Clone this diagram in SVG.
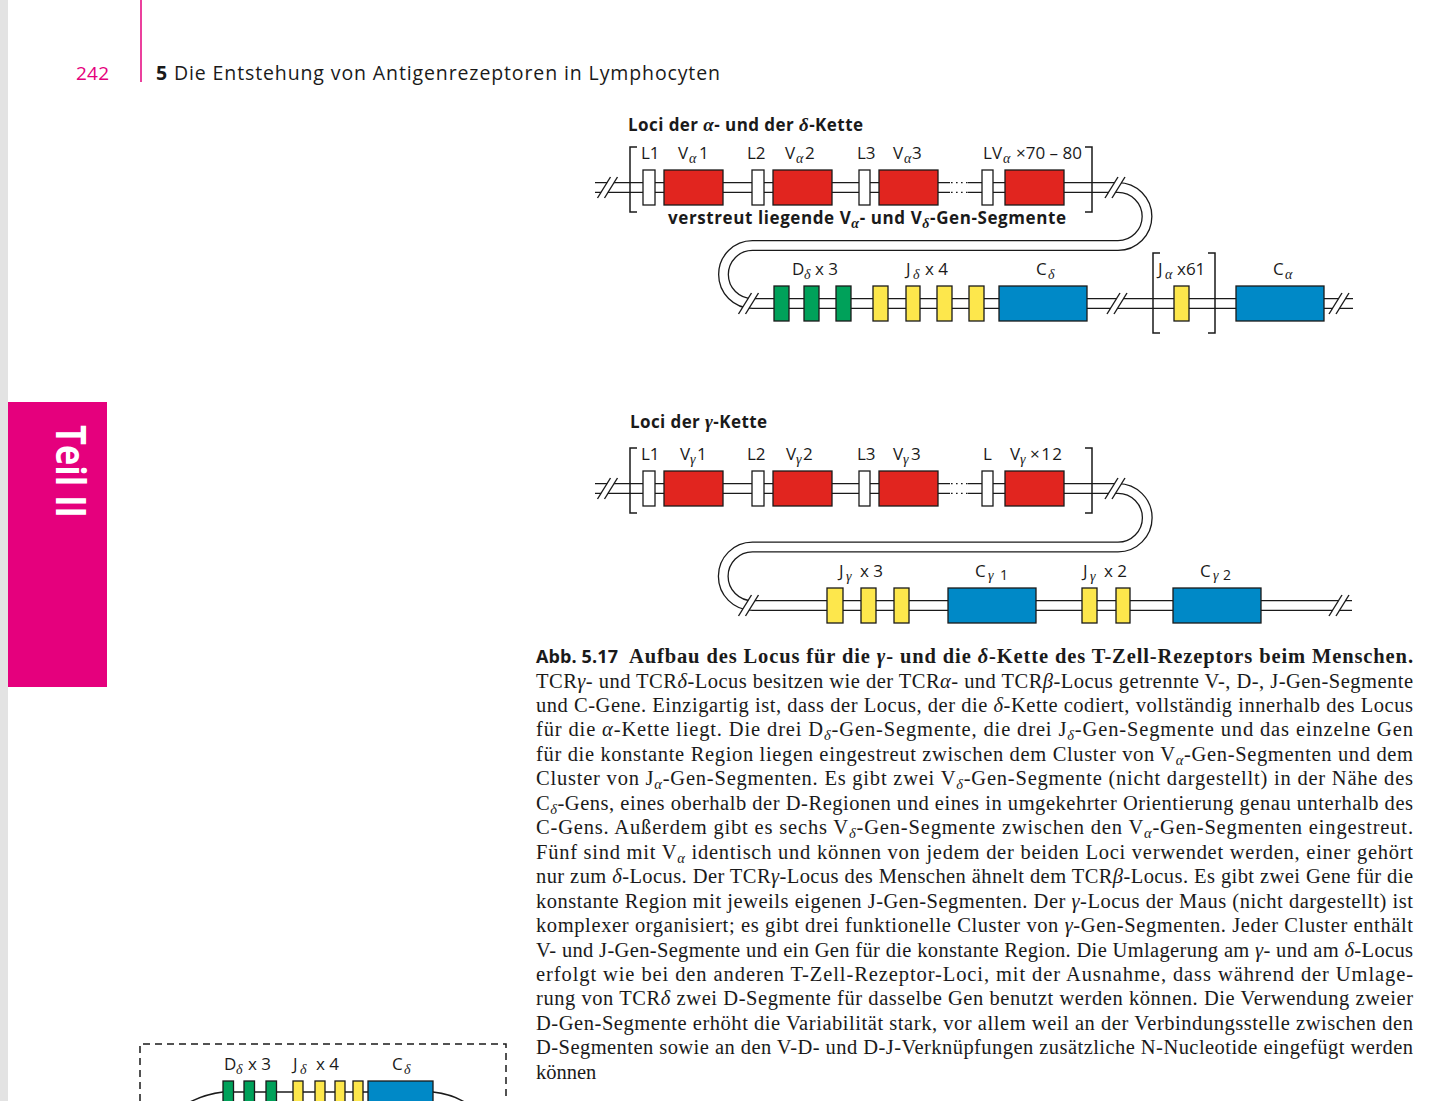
<svg xmlns="http://www.w3.org/2000/svg" width="1456" height="1101" viewBox="0 0 1456 1101">
<defs>
<style>
.sans{font-family:"Open Sans","Noto Sans","Liberation Sans",sans-serif;fill:#1a1a1a}
.lab{font-family:"Open Sans","Noto Sans","Liberation Sans",sans-serif;font-size:17px;fill:#1a1a1a}
.bold{font-weight:bold}
.g{font-family:"Liberation Serif",serif;font-style:italic}
.gs{font-family:"Liberation Serif",serif;font-style:italic;font-size:14px}
.cap{font-family:"Liberation Serif",serif;font-size:20.5px;fill:#1a1a1a}
.i{font-style:italic}
.s{font-style:italic;font-size:14.5px}
.ro{fill:none;stroke:#1a1a1a;stroke-width:11}
.ri{fill:none;stroke:#fff;stroke-width:8.4}
.bx{stroke:#1a1a1a;stroke-width:1.3}
.w{fill:#fff}.r{fill:#e1251f}.gr{fill:#00a15a}.y{fill:#fde74c}.b{fill:#0089c7}
.br{fill:none;stroke:#1a1a1a;stroke-width:1.5}
.dot{fill:none;stroke:#1a1a1a;stroke-width:1.3;stroke-dasharray:1.6 3.4}
</style>
<g id="brk">
<polygon points="-10,10.5 3,-10.5 10,-10.5 -3,10.5" fill="#fff"/>
<line x1="-10" y1="10.5" x2="3" y2="-10.5" stroke="#1a1a1a" stroke-width="1.4"/>
<line x1="-3" y1="10.5" x2="10" y2="-10.5" stroke="#1a1a1a" stroke-width="1.4"/>
</g>
</defs>
<rect width="1456" height="1101" fill="#fff"/>
<rect x="0" y="0" width="8" height="1101" fill="#e3e3e3"/>

<g id="header">
<line x1="141" y1="0" x2="141" y2="82" stroke="#e5007d" stroke-width="1.5"/>
<text x="76" y="80" class="sans" font-size="19" style="fill:#e5007d" textLength="33">242</text>
<text x="156" y="80" class="sans" font-size="19.5" textLength="564"><tspan font-weight="bold">5</tspan> Die Entstehung von Antigenrezeptoren in Lymphocyten</text>
</g>

<g id="tab">
<rect x="8" y="402" width="99" height="285" fill="#e5007d"/>
<text transform="translate(56,425) rotate(90)" font-family="Open Sans,Noto Sans,sans-serif" font-weight="bold" font-size="42" fill="#fff" textLength="93" lengthAdjust="spacingAndGlyphs">Teil II</text>
</g>

<g id="connectors">
<path class="ro" d="M595,187.5 H1118 A29,29 0 0 1 1118,245.5 H752.5 A29,29 0 0 0 752.5,303.5 H1353"/>
<path class="ri" d="M595,187.5 H1118 A29,29 0 0 1 1118,245.5 H752.5 A29,29 0 0 0 752.5,303.5 H1353"/>
<rect x="950" y="181" width="18" height="13" fill="#fff"/>
<line class="dot" x1="951" y1="182.6" x2="968" y2="182.6"/>
<line class="dot" x1="951" y1="192.4" x2="968" y2="192.4"/>
<use href="#brk" x="607.5" y="187.5"/>
<use href="#brk" x="1115" y="187.5"/>
<use href="#brk" x="748.5" y="303.5"/>
<use href="#brk" x="1117" y="303.5"/>
<use href="#brk" x="1339" y="303.5"/>

<path class="ro" d="M595,488.5 H1118 A29.25,29.25 0 0 1 1118,547 H752.5 A29.25,29.25 0 0 0 752.5,605.5 H1352"/>
<path class="ri" d="M595,488.5 H1118 A29.25,29.25 0 0 1 1118,547 H752.5 A29.25,29.25 0 0 0 752.5,605.5 H1352"/>
<rect x="950" y="482" width="18" height="13" fill="#fff"/>
<line class="dot" x1="951" y1="483.6" x2="968" y2="483.6"/>
<line class="dot" x1="951" y1="493.4" x2="968" y2="493.4"/>
<use href="#brk" x="607.5" y="488.5"/>
<use href="#brk" x="1115" y="488.5"/>
<use href="#brk" x="748.5" y="605.5"/>
<use href="#brk" x="1339" y="605.5"/>
</g>

<g id="alpha-title">
<text x="628" y="131" class="sans bold" font-size="17" textLength="235">Loci der <tspan class="g" font-size="19">α</tspan>- und der <tspan class="g" font-size="19">δ</tspan>-Kette</text>
</g>

<g id="alpha-brackets">
<path class="br" d="M637,147 H630 V212 H637"/>
<path class="br" d="M1085,147 H1092 V212 H1085"/>
<path class="br" d="M1160,253 H1153 V333 H1160"/>
<path class="br" d="M1208,253 H1215 V333 H1208"/>
</g>

<g id="alpha-top">
<rect class="bx w" x="643" y="170" width="12" height="35"/>
<rect class="bx r" x="664" y="170" width="59" height="35"/>
<rect class="bx w" x="752" y="170" width="12" height="35"/>
<rect class="bx r" x="773" y="170" width="59" height="35"/>
<rect class="bx w" x="859" y="170" width="11" height="35"/>
<rect class="bx r" x="879" y="170" width="59" height="35"/>
<rect class="bx w" x="982" y="170" width="11" height="35"/>
<rect class="bx r" x="1005" y="170" width="59" height="35"/>
<text class="lab" x="641" y="159">L1</text>
<text class="lab" y="159"><tspan x="678">V</tspan><tspan class="gs" x="689" dy="4">α</tspan><tspan x="699" dy="-4">1</tspan></text>
<text class="lab" x="747" y="159">L2</text>
<text class="lab" y="159"><tspan x="785">V</tspan><tspan class="gs" x="796" dy="4">α</tspan><tspan x="805" dy="-4">2</tspan></text>
<text class="lab" x="857" y="159">L3</text>
<text class="lab" y="159"><tspan x="893">V</tspan><tspan class="gs" x="904" dy="4">α</tspan><tspan x="912" dy="-4">3</tspan></text>
<text class="lab" y="159"><tspan x="983">L</tspan><tspan x="992">V</tspan><tspan class="gs" x="1003" dy="4">α</tspan><tspan x="1016" dy="-4" textLength="66">×70 – 80</tspan></text>
<text x="668" y="224" class="sans bold" font-size="17" textLength="398">verstreut liegende V<tspan class="gs" dy="4">α</tspan><tspan dy="-4">- und V</tspan><tspan class="gs" dy="4">δ</tspan><tspan dy="-4">-Gen-Segmente</tspan></text>
</g>

<g id="alpha-bottom">
<rect class="bx gr" x="774" y="286" width="15" height="35"/>
<rect class="bx gr" x="804" y="286" width="15" height="35"/>
<rect class="bx gr" x="836" y="286" width="15" height="35"/>
<rect class="bx y" x="873" y="286" width="15" height="35"/>
<rect class="bx y" x="906" y="286" width="14" height="35"/>
<rect class="bx y" x="937" y="286" width="15" height="35"/>
<rect class="bx y" x="969" y="286" width="15" height="35"/>
<rect class="bx b" x="999" y="286" width="88" height="35"/>
<rect class="bx y" x="1174" y="286" width="15" height="35"/>
<rect class="bx b" x="1236" y="286" width="88" height="35"/>
<text class="lab" y="275"><tspan x="792">D</tspan><tspan class="gs" x="804" dy="4">δ</tspan><tspan x="815" dy="-4">x 3</tspan></text>
<text class="lab" y="275"><tspan x="906">J</tspan><tspan class="gs" x="913" dy="4">δ</tspan><tspan x="925" dy="-4">x 4</tspan></text>
<text class="lab" y="275"><tspan x="1036">C</tspan><tspan class="gs" x="1048" dy="4">δ</tspan></text>
<text class="lab" y="275"><tspan x="1158">J</tspan><tspan class="gs" x="1165" dy="4">α</tspan><tspan x="1177" dy="-4">x61</tspan></text>
<text class="lab" y="275"><tspan x="1273">C</tspan><tspan class="gs" x="1285" dy="4">α</tspan></text>
</g>

<g id="gamma-title">
<text x="630" y="428" class="sans bold" font-size="17" textLength="137">Loci der <tspan class="g" font-size="19">γ</tspan>-Kette</text>
</g>

<g id="gamma-brackets">
<path class="br" d="M637,448 H630 V513 H637"/>
<path class="br" d="M1085,448 H1092 V513 H1085"/>
</g>

<g id="gamma-top">
<rect class="bx w" x="643" y="471" width="12" height="35"/>
<rect class="bx r" x="664" y="471" width="59" height="35"/>
<rect class="bx w" x="752" y="471" width="12" height="35"/>
<rect class="bx r" x="773" y="471" width="59" height="35"/>
<rect class="bx w" x="859" y="471" width="11" height="35"/>
<rect class="bx r" x="879" y="471" width="59" height="35"/>
<rect class="bx w" x="982" y="471" width="11" height="35"/>
<rect class="bx r" x="1005" y="471" width="59" height="35"/>
<text class="lab" x="641" y="460">L1</text>
<text class="lab" y="460"><tspan x="680">V</tspan><tspan class="gs" x="690" dy="4">γ</tspan><tspan x="697" dy="-4">1</tspan></text>
<text class="lab" x="747" y="460">L2</text>
<text class="lab" y="460"><tspan x="786">V</tspan><tspan class="gs" x="796" dy="4">γ</tspan><tspan x="803" dy="-4">2</tspan></text>
<text class="lab" x="857" y="460">L3</text>
<text class="lab" y="460"><tspan x="893">V</tspan><tspan class="gs" x="903" dy="4">γ</tspan><tspan x="911" dy="-4">3</tspan></text>
<text class="lab" x="983" y="460">L</text>
<text class="lab" y="460"><tspan x="1010">V</tspan><tspan class="gs" x="1020" dy="4">γ</tspan><tspan x="1030" dy="-4" textLength="32">×12</tspan></text>
</g>

<g id="gamma-bottom">
<rect class="bx y" x="827" y="588" width="16" height="35"/>
<rect class="bx y" x="861" y="588" width="15" height="35"/>
<rect class="bx y" x="894" y="588" width="15" height="35"/>
<rect class="bx b" x="948" y="588" width="88" height="35"/>
<rect class="bx y" x="1082" y="588" width="15" height="35"/>
<rect class="bx y" x="1116" y="588" width="14" height="35"/>
<rect class="bx b" x="1173" y="588" width="88" height="35"/>
<text class="lab" y="577"><tspan x="839">J</tspan><tspan class="gs" x="846" dy="4">γ</tspan><tspan x="860" dy="-4">x 3</tspan></text>
<text class="lab" y="577"><tspan x="975">C</tspan><tspan class="gs" x="988" dy="3">γ</tspan><tspan x="1000" font-size="14">1</tspan></text>
<text class="lab" y="577"><tspan x="1083">J</tspan><tspan class="gs" x="1090" dy="4">γ</tspan><tspan x="1104" dy="-4">x 2</tspan></text>
<text class="lab" y="577"><tspan x="1200">C</tspan><tspan class="gs" x="1213" dy="3">γ</tspan><tspan x="1223" font-size="14">2</tspan></text>
</g>

<g id="caption">
<text x="536" y="663" class="sans bold" font-size="18" textLength="82">Abb. 5.17</text>
<text x="629" y="663" class="cap" font-weight="bold" textLength="784">Aufbau des Locus für die <tspan class="i">γ</tspan>- und die <tspan class="i">δ</tspan>-Kette des T-Zell-Rezeptors beim Menschen.</text>
<text x="536" y="688" class="cap" textLength="877">TCR<tspan class="i">γ</tspan>- und TCR<tspan class="i">δ</tspan>-Locus besitzen wie der TCR<tspan class="i">α</tspan>- und TCR<tspan class="i">β</tspan>-Locus getrennte V-, D-, J-Gen-Segmente</text>
<text x="536" y="712" class="cap" textLength="877">und C-Gene. Einzigartig ist, dass der Locus, der die <tspan class="i">δ</tspan>-Kette codiert, vollständig innerhalb des Locus</text>
<text x="536" y="736" class="cap" textLength="877">für die <tspan class="i">α</tspan>-Kette liegt. Die drei D<tspan class="s" dy="4">δ</tspan><tspan dy="-4">-Gen-Segmente, die drei J</tspan><tspan class="s" dy="4">δ</tspan><tspan dy="-4">-Gen-Segmente und das einzelne Gen</tspan></text>
<text x="536" y="761" class="cap" textLength="877">für die konstante Region liegen eingestreut zwischen dem Cluster von V<tspan class="s" dy="4">α</tspan><tspan dy="-4">-Gen-Segmenten und dem</tspan></text>
<text x="536" y="785" class="cap" textLength="877">Cluster von J<tspan class="s" dy="4">α</tspan><tspan dy="-4">-Gen-Segmenten. Es gibt zwei V</tspan><tspan class="s" dy="4">δ</tspan><tspan dy="-4">-Gen-Segmente (nicht dargestellt) in der Nähe des</tspan></text>
<text x="536" y="810" class="cap" textLength="877">C<tspan class="s" dy="4">δ</tspan><tspan dy="-4">-Gens, eines oberhalb der D-Regionen und eines in umgekehrter Orientierung genau unterhalb des</tspan></text>
<text x="536" y="834" class="cap" textLength="877">C-Gens. Außerdem gibt es sechs V<tspan class="s" dy="4">δ</tspan><tspan dy="-4">-Gen-Segmente zwischen den V</tspan><tspan class="s" dy="4">α</tspan><tspan dy="-4">-Gen-Segmenten eingestreut.</tspan></text>
<text x="536" y="859" class="cap" textLength="877">Fünf sind mit V<tspan class="s" dy="4">α</tspan><tspan dy="-4"> identisch und können von jedem der beiden Loci verwendet werden, einer gehört</tspan></text>
<text x="536" y="883" class="cap" textLength="877">nur zum <tspan class="i">δ</tspan>-Locus. Der TCR<tspan class="i">γ</tspan>-Locus des Menschen ähnelt dem TCR<tspan class="i">β</tspan>-Locus. Es gibt zwei Gene für die</text>
<text x="536" y="908" class="cap" textLength="877">konstante Region mit jeweils eigenen J-Gen-Segmenten. Der <tspan class="i">γ</tspan>-Locus der Maus (nicht dargestellt) ist</text>
<text x="536" y="932" class="cap" textLength="877">komplexer organisiert; es gibt drei funktionelle Cluster von <tspan class="i">γ</tspan>-Gen-Segmenten. Jeder Cluster enthält</text>
<text x="536" y="957" class="cap" textLength="877">V- und J-Gen-Segmente und ein Gen für die konstante Region. Die Umlagerung am <tspan class="i">γ</tspan>- und am <tspan class="i">δ</tspan>-Locus</text>
<text x="536" y="981" class="cap" textLength="877">erfolgt wie bei den anderen T-Zell-Rezeptor-Loci, mit der Ausnahme, dass während der Umlage-</text>
<text x="536" y="1005" class="cap" textLength="877">rung von TCR<tspan class="i">δ</tspan> zwei D-Segmente für dasselbe Gen benutzt werden können. Die Verwendung zweier</text>
<text x="536" y="1030" class="cap" textLength="877">D-Gen-Segmente erhöht die Variabilität stark, vor allem weil an der Verbindungsstelle zwischen den</text>
<text x="536" y="1054" class="cap" textLength="877">D-Segmenten sowie an den V-D- und D-J-Verknüpfungen zusätzliche N-Nucleotide eingefügt werden</text>
<text x="536" y="1079" class="cap">können</text>
</g>

<g id="partial-figure">
<path d="M140,1101 V1044 H506 V1101" fill="none" stroke="#1a1a1a" stroke-width="1.5" stroke-dasharray="7 5"/>
<path d="M223,1092 Q205,1094 188,1103" fill="none" stroke="#1a1a1a" stroke-width="1.5"/>
<path d="M433,1092 Q452,1094 466,1103" fill="none" stroke="#1a1a1a" stroke-width="1.5"/>
<line x1="223" y1="1092" x2="368" y2="1092" stroke="#1a1a1a" stroke-width="1.5"/>
<rect class="bx gr" x="223" y="1081" width="10.5" height="30"/>
<rect class="bx gr" x="244" y="1081" width="10.5" height="30"/>
<rect class="bx gr" x="266" y="1081" width="10.5" height="30"/>
<rect class="bx y" x="293" y="1081" width="10" height="30"/>
<rect class="bx y" x="315" y="1081" width="10" height="30"/>
<rect class="bx y" x="335" y="1081" width="10" height="30"/>
<rect class="bx y" x="353" y="1081" width="10" height="30"/>
<rect class="bx b" x="368" y="1081" width="65" height="30"/>
<text class="lab" y="1070"><tspan x="224">D</tspan><tspan class="gs" x="236" dy="4">δ</tspan><tspan x="248" dy="-4">x 3</tspan></text>
<text class="lab" y="1070"><tspan x="293">J</tspan><tspan class="gs" x="300" dy="4">δ</tspan><tspan x="316" dy="-4">x 4</tspan></text>
<text class="lab" y="1070"><tspan x="392">C</tspan><tspan class="gs" x="404" dy="4">δ</tspan></text>
</g>
</svg>
